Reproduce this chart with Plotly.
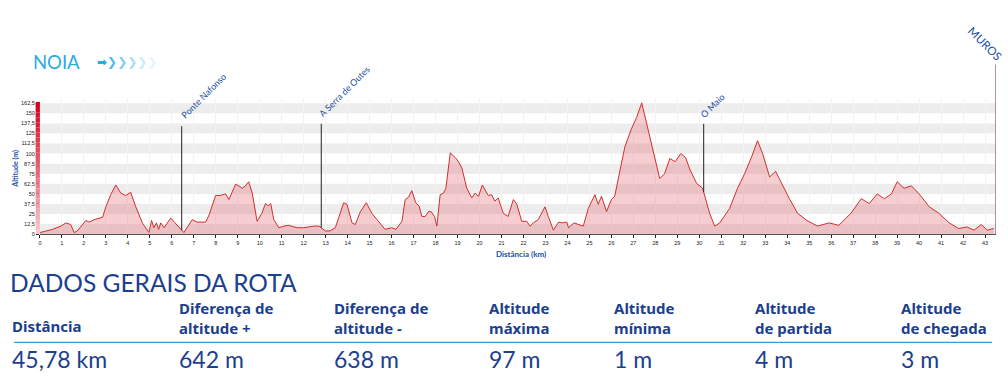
import numpy as np
import plotly.graph_objects as go

# ---------------- data ----------------
distance_km = [0, 0.27, 0.58, 0.95, 1.18, 1.4, 1.56, 1.7, 2.09, 2.24, 2.47, 2.85, 3.0, 3.22, 3.45, 3.68, 3.9, 4.13, 4.36, 4.66,
               4.96, 5.08, 5.18, 5.3, 5.4, 5.5, 5.65, 5.95, 6.2, 6.55, 6.93, 7.15, 7.54, 7.7, 7.99, 8.2, 8.45, 8.6, 8.82, 8.9,
               9.05, 9.2, 9.35, 9.5, 9.66, 9.88, 10.1, 10.26, 10.4, 10.5, 10.64, 10.87, 11.1, 11.3, 11.7, 12.0, 12.46, 12.7, 12.99, 13.2,
               13.44, 13.67, 13.82, 13.97, 14.2, 14.35, 14.58, 14.85, 15.1, 15.34, 15.7, 16.0, 16.2, 16.47, 16.62, 16.77, 16.92, 17.1, 17.25, 17.38,
               17.53, 17.68, 17.8, 17.95, 18.06, 18.21, 18.36, 18.47, 18.67, 18.9, 19.04, 19.2, 19.42, 19.65, 19.8, 19.95, 20.13, 20.4, 20.55, 20.7,
               20.85, 21.08, 21.3, 21.54, 21.7, 21.92, 22.15, 22.3, 22.45, 22.67, 22.98, 23.13, 23.36, 23.6, 23.75, 23.97, 24.05, 24.3, 24.5, 24.72,
               24.95, 25.1, 25.25, 25.4, 25.55, 25.78, 26.0, 26.15, 26.31, 26.46, 26.61, 26.9, 27.15, 27.38, 27.66, 27.98, 28.2, 28.42, 28.66, 28.9,
               29.16, 29.38, 29.56, 29.88, 30.15, 30.47, 30.7, 30.93, 31.38, 31.74, 32.06, 32.38, 32.65, 32.88, 33.2, 33.47, 33.74, 34.1, 34.47, 34.9,
               35.38, 35.9, 36.35, 36.9, 37.37, 37.73, 38.1, 38.42, 38.74, 39.0, 39.32, 39.65, 40.0, 40.46, 40.9, 41.37, 41.8, 42.17, 42.5, 42.83,
               43.1, 43.4]
altitude_m = [2, 4, 6, 10, 14, 12, 2, 4, 17, 15, 18, 21, 34, 49, 61, 51, 48, 52, 34, 14,
              2, 17, 8, 14, 6, 14, 8, 20, 12, 2, 18, 15, 15, 24, 48, 48, 50, 43, 57, 62,
              60, 57, 60, 65, 51, 16, 26, 38, 35, 38, 18, 8, 10, 11, 8, 8, 10, 10, 4, 4,
              8, 28, 39, 37, 14, 12, 28, 39, 26, 18, 6, 8, 6, 16, 43, 46, 54, 39, 35, 22,
              22, 28, 28, 22, 10, 49, 51, 57, 101, 95, 90, 82, 57, 45, 51, 47, 61, 48, 49, 41,
              45, 26, 22, 43, 37, 16, 16, 10, 14, 18, 34, 22, 5, 15, 14, 15, 8, 14, 12, 10,
              32, 41, 49, 37, 47, 28, 43, 47, 69, 86, 108, 130, 145, 163, 130, 94, 69, 75, 94, 90,
              100, 95, 81, 63, 57, 26, 10, 14, 32, 57, 75, 96, 116, 100, 71, 78, 63, 44, 26, 17,
              10, 14, 11, 26, 44, 38, 50, 44, 50, 65, 57, 60, 50, 34, 26, 14, 7, 9, 5, 12,
              5, 7]

x_ticks = list(range(0, 44))
y_tick_vals = [0, 12.5, 25, 37.5, 50, 62.5, 75, 87.5, 100, 112.5, 125, 137.5, 150, 162.5]
y_tick_text = ["0", "12,5", "25", "37,5", "50", "62,5", "75", "87,5", "100", "112,5", "125", "137,5", "150", "162,5"]

waypoint_names = ["Ponte Nafonso", "A Serra de Outes", "O Maio"]
waypoint_km = [6.45, 12.8, 30.2]
waypoint_top = [134, 137, 137]
end_name = "MUROS"
end_km = 43.5

stat_labels = ["Distância", "Diferença de<br>altitude +", "Diferença de<br>altitude -", "Altitude<br>máxima",
               "Altitude<br>mínima", "Altitude<br>de partida", "Altitude<br>de chegada"]
stat_values = ["45,78 km", "642 m", "638 m", "97 m", "1 m", "4 m", "3 m"]
start_name = "NOIA"
table_title = "DADOS GERAIS DA ROTA"

# ---------------- layout helpers ----------------
W, H = 1008, 387
def px(x):
    return x / W
def py(y):
    return 1 - y / H
def pyt(y):  # table area (small empirical offset)
    return 1 - (y + 3) / H

BLUE = "#1c3f8e"
LBLUE = "#29abe2"

fig = go.Figure()

fig.add_trace(go.Scatter(
    x=distance_km, y=altitude_m, mode="lines",
    line=dict(color="#d0302f", width=1),
    fill="tozeroy", fillcolor="rgba(226,90,100,0.30)",
    hoverinfo="skip", showlegend=False))

shapes = []
for lo in y_tick_vals[::2]:
    shapes.append(dict(type="rect", xref="x domain", yref="y", x0=0, x1=1, y0=lo, y1=lo + 12.5,
                       fillcolor="#ededed", line=dict(width=0), layer="below"))
n_seg = 26
top_val = 164
for i in range(n_seg):
    t = i / (n_seg - 1)
    r = int(216 + (246 - 216) * (1 - t))
    g = int(0 + (200 - 0) * (1 - t))
    b = int(26 + (205 - 26) * (1 - t))
    shapes.append(dict(type="rect", xref="x domain", yref="y", x0=-0.0045, x1=0,
                       y0=top_val * i / n_seg, y1=top_val * (i + 1) / n_seg,
                       fillcolor=f"rgb({r},{g},{b})", line=dict(width=0), layer="above"))
prof_at = np.interp(waypoint_km, distance_km, altitude_m)
for k, top, base in zip(waypoint_km, waypoint_top, prof_at):
    shapes.append(dict(type="line", xref="x", yref="y", x0=k, x1=k, y0=base, y1=top,
                       line=dict(color="#222222", width=1)))
shapes.append(dict(type="line", xref="x", yref="paper", x0=end_km, x1=end_km, y0=py(236), y1=py(65),
                   line=dict(color="#8c6f80", width=1.5)))
shapes.append(dict(type="line", xref="paper", yref="paper", x0=px(12), x1=px(992), y0=pyt(342), y1=pyt(342),
                   line=dict(color="#2a9fd8", width=1.3)))

ann = []
def note(text, x, y, size, color, family="Lato", xa="left", ya="middle", angle=0, xref="paper", yref="paper",
         xs=0, ys=0):
    ann.append(dict(text=text, x=x, y=y, xref=xref, yref=yref, showarrow=False, textangle=angle,
                    xanchor=xa, yanchor=ya, xshift=xs, yshift=ys, align="left",
                    font=dict(family=family, size=size, color=color)))

shifts = [(22, 31), (23, 32), (9, 18)]
for name, k, top, (sx, sy) in zip(waypoint_names, waypoint_km, waypoint_top, shifts):
    note(name, k, top, 9, "#1d4ea3", xa="center", ya="middle", angle=-45, xref="x", yref="y", xs=sx, ys=sy)
note(end_name, px(985), py(44), 11.5, "#1d4ea3", xa="center", ya="middle", angle=45)
note("<b>Altitude (m)</b>", px(14), py(170), 7, "#1d4ea3", xa="center", ya="middle", angle=-90)
note("<b>Distância (km)</b>", px(520), py(256), 8, "#1d4ea3", xa="center", ya="middle")
# NOIA + arrows
note(start_name, px(29), py(62), 18.5, LBLUE, xa="left", ya="middle")
chev_cols = ["#4fbbe8", "#80cdef", "#a9ddf4", "#cbebf8", "#e4f4fb"]
arrow_txt = f"<span style='color:{LBLUE}'><b>➡</b></span>" + "".join(
    f"<span style='color:{c}'><b>❯</b></span>" for c in chev_cols)
note(arrow_txt, px(93), py(62), 12, LBLUE, family="DejaVu Sans", xa="left", ya="middle")
# table
note(table_title, px(6), pyt(282), 24.5, BLUE, xa="left", ya="middle")
col_x = [11, 178, 334, 489, 614, 755, 902]
for lab, val, cx in zip(stat_labels, stat_values, col_x):
    two = "<br>" in lab
    note("<b>" + lab + "</b>", px(cx - 3), pyt(317 if two else 326), 15, BLUE, family="Noto Sans",
         xa="left", ya="middle")
    note(val, px(cx - 3), pyt(359), 23, BLUE, xa="left", ya="middle")

fig.update_layout(
    width=W, height=H, margin=dict(l=0, r=0, t=0, b=0),
    paper_bgcolor="white", plot_bgcolor="white",
    shapes=shapes, annotations=ann,
    xaxis=dict(domain=[px(38), px(996)], range=[0, 43.5], tickvals=x_ticks,
               ticktext=[str(v) for v in x_ticks], ticks="outside", ticklen=3, tickcolor="#222",
               tickfont=dict(family="Liberation Sans", size=5.5, color="#222"),
               showgrid=True, gridcolor="#f2f2f2", gridwidth=1, zeroline=False,
               showline=True, linecolor="#555", linewidth=1, fixedrange=True),
    yaxis=dict(domain=[py(236), py(100)], range=[0, 167.5], tickvals=y_tick_vals, ticktext=y_tick_text,
               ticks="outside", ticklen=3, tickcolor="#222",
               tickfont=dict(family="Liberation Sans", size=5.5, color="#222"),
               showgrid=False, zeroline=False, showline=False, fixedrange=True),
)

fig.write_html("out.html", config={"displayModeBar": False},
               post_script="document.body.style.margin='0';document.body.style.overflow='hidden';")
